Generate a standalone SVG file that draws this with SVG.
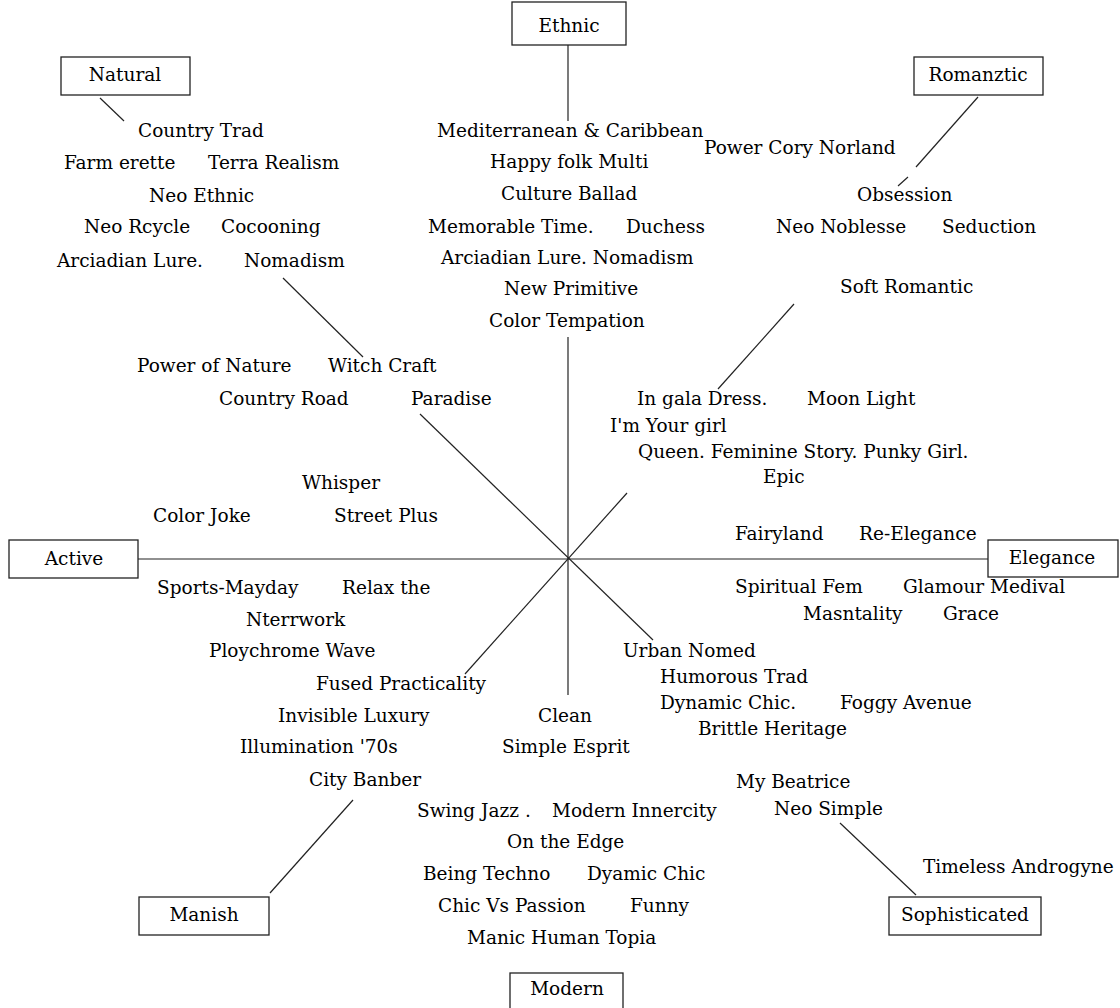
<svg xmlns="http://www.w3.org/2000/svg" width="1120" height="1008" viewBox="0 0 1120 1008">
<style>
text{font-family:"DejaVu Serif","Liberation Serif",serif;font-size:18.5px;fill:#000}
.box{fill:#fff;stroke:#222;stroke-width:1.3}
.ln{stroke:#222;stroke-width:1.2;fill:none}
.c{text-anchor:middle}
</style>
<rect width="1120" height="1008" fill="#fff"/>
<g id="connectors">
<line class="ln" x1="100" y1="98" x2="124" y2="121"/>
<line class="ln" x1="568" y1="45" x2="568" y2="121"/>
<line class="ln" x1="978" y1="97" x2="916" y2="167"/>
<line class="ln" x1="908" y1="177" x2="898" y2="186"/>
<line class="ln" x1="283" y1="278" x2="363" y2="357"/>
<line class="ln" x1="794" y1="304" x2="718" y2="389"/>
<line class="ln" x1="568" y1="337" x2="568" y2="695"/>
<line class="ln" x1="138" y1="559" x2="988" y2="559"/>
<line class="ln" x1="420" y1="414" x2="653" y2="640"/>
<line class="ln" x1="627" y1="493" x2="465" y2="674"/>
<line class="ln" x1="353" y1="800" x2="270" y2="893"/>
<line class="ln" x1="840" y1="823" x2="916" y2="895"/>
</g>
<g id="node-natural"><rect class="box" x="61" y="57" width="129" height="38"/><text class="c" x="125" y="81">Natural</text></g>
<g id="node-ethnic"><rect class="box" x="512" y="2" width="114" height="43"/><text class="c" x="569" y="32">Ethnic</text></g>
<g id="node-romanztic"><rect class="box" x="914" y="57" width="129" height="38"/><text class="c" x="978" y="81">Romanztic</text></g>
<g id="node-active"><rect class="box" x="9" y="540" width="129" height="38"/><text class="c" x="74" y="565">Active</text></g>
<g id="node-elegance"><rect class="box" x="988" y="540" width="130" height="37"/><text class="c" x="1052" y="564">Elegance</text></g>
<g id="node-manish"><rect class="box" x="139" y="897" width="130" height="38"/><text class="c" x="204" y="921">Manish</text></g>
<g id="node-sophisticated"><rect class="box" x="889" y="897" width="152" height="38"/><text class="c" x="965" y="921">Sophisticated</text></g>
<g id="node-modern"><rect class="box" x="510" y="973" width="113" height="45"/><text class="c" x="567" y="995">Modern</text></g>
<g id="terms-natural">
<text x="138" y="137">Country Trad</text>
<text x="64" y="169">Farm erette</text>
<text x="208" y="169">Terra Realism</text>
<text x="149" y="202">Neo Ethnic</text>
<text x="84" y="233">Neo Rcycle</text>
<text x="221" y="233">Cocooning</text>
<text x="57" y="267">Arciadian Lure.</text>
<text x="244" y="267">Nomadism</text>
<text x="137" y="372">Power of Nature</text>
<text x="328" y="372">Witch Craft</text>
<text x="219" y="405">Country Road</text>
<text x="411" y="405">Paradise</text>
</g>
<g id="terms-ethnic">
<text x="437" y="137">Mediterranean &amp; Caribbean</text>
<text x="490" y="168">Happy folk Multi</text>
<text x="501" y="200">Culture Ballad</text>
<text x="428" y="233">Memorable Time.</text>
<text x="626" y="233">Duchess</text>
<text x="441" y="264">Arciadian Lure. Nomadism</text>
<text x="504" y="295">New Primitive</text>
<text x="489" y="327">Color Tempation</text>
</g>
<g id="terms-romantic">
<text x="704" y="154">Power Cory Norland</text>
<text x="857" y="201">Obsession</text>
<text x="776" y="233">Neo Noblesse</text>
<text x="942" y="233">Seduction</text>
<text x="840" y="293">Soft Romantic</text>
<text x="637" y="405">In gala Dress.</text>
<text x="807" y="405">Moon Light</text>
<text x="610" y="432">I'm Your girl</text>
<text x="638" y="458">Queen. Feminine Story. Punky Girl.</text>
<text x="763" y="483">Epic</text>
</g>
<g id="terms-active">
<text x="302" y="489">Whisper</text>
<text x="153" y="522">Color Joke</text>
<text x="334" y="522">Street Plus</text>
<text x="157" y="594">Sports-Mayday</text>
<text x="342" y="594">Relax the</text>
<text x="246" y="626">Nterrwork</text>
<text x="209" y="657">Ploychrome Wave</text>
</g>
<g id="terms-elegance">
<text x="735" y="540">Fairyland</text>
<text x="859" y="540">Re-Elegance</text>
<text x="735" y="593">Spiritual Fem</text>
<text x="903" y="593">Glamour Medival</text>
<text x="803" y="620">Masntality</text>
<text x="943" y="620">Grace</text>
</g>
<g id="terms-manish">
<text x="316" y="690">Fused Practicality</text>
<text x="278" y="722">Invisible Luxury</text>
<text x="240" y="753">Illumination '70s</text>
<text x="309" y="786">City Banber</text>
</g>
<g id="terms-modern">
<text x="538" y="722">Clean</text>
<text x="502" y="753">Simple Esprit</text>
<text x="417" y="817">Swing Jazz .</text>
<text x="552" y="817">Modern Innercity</text>
<text x="507" y="848">On the Edge</text>
<text x="423" y="880">Being Techno</text>
<text x="587" y="880">Dyamic Chic</text>
<text x="438" y="912">Chic Vs Passion</text>
<text x="630" y="912">Funny</text>
<text x="467" y="944">Manic Human Topia</text>
</g>
<g id="terms-sophisticated">
<text x="623" y="657">Urban Nomed</text>
<text x="660" y="683">Humorous Trad</text>
<text x="660" y="709">Dynamic Chic.</text>
<text x="840" y="709">Foggy Avenue</text>
<text x="698" y="735">Brittle Heritage</text>
<text x="736" y="788">My Beatrice</text>
<text x="774" y="815">Neo Simple</text>
<text x="923" y="873">Timeless Androgyne</text>
</g>
</svg>
